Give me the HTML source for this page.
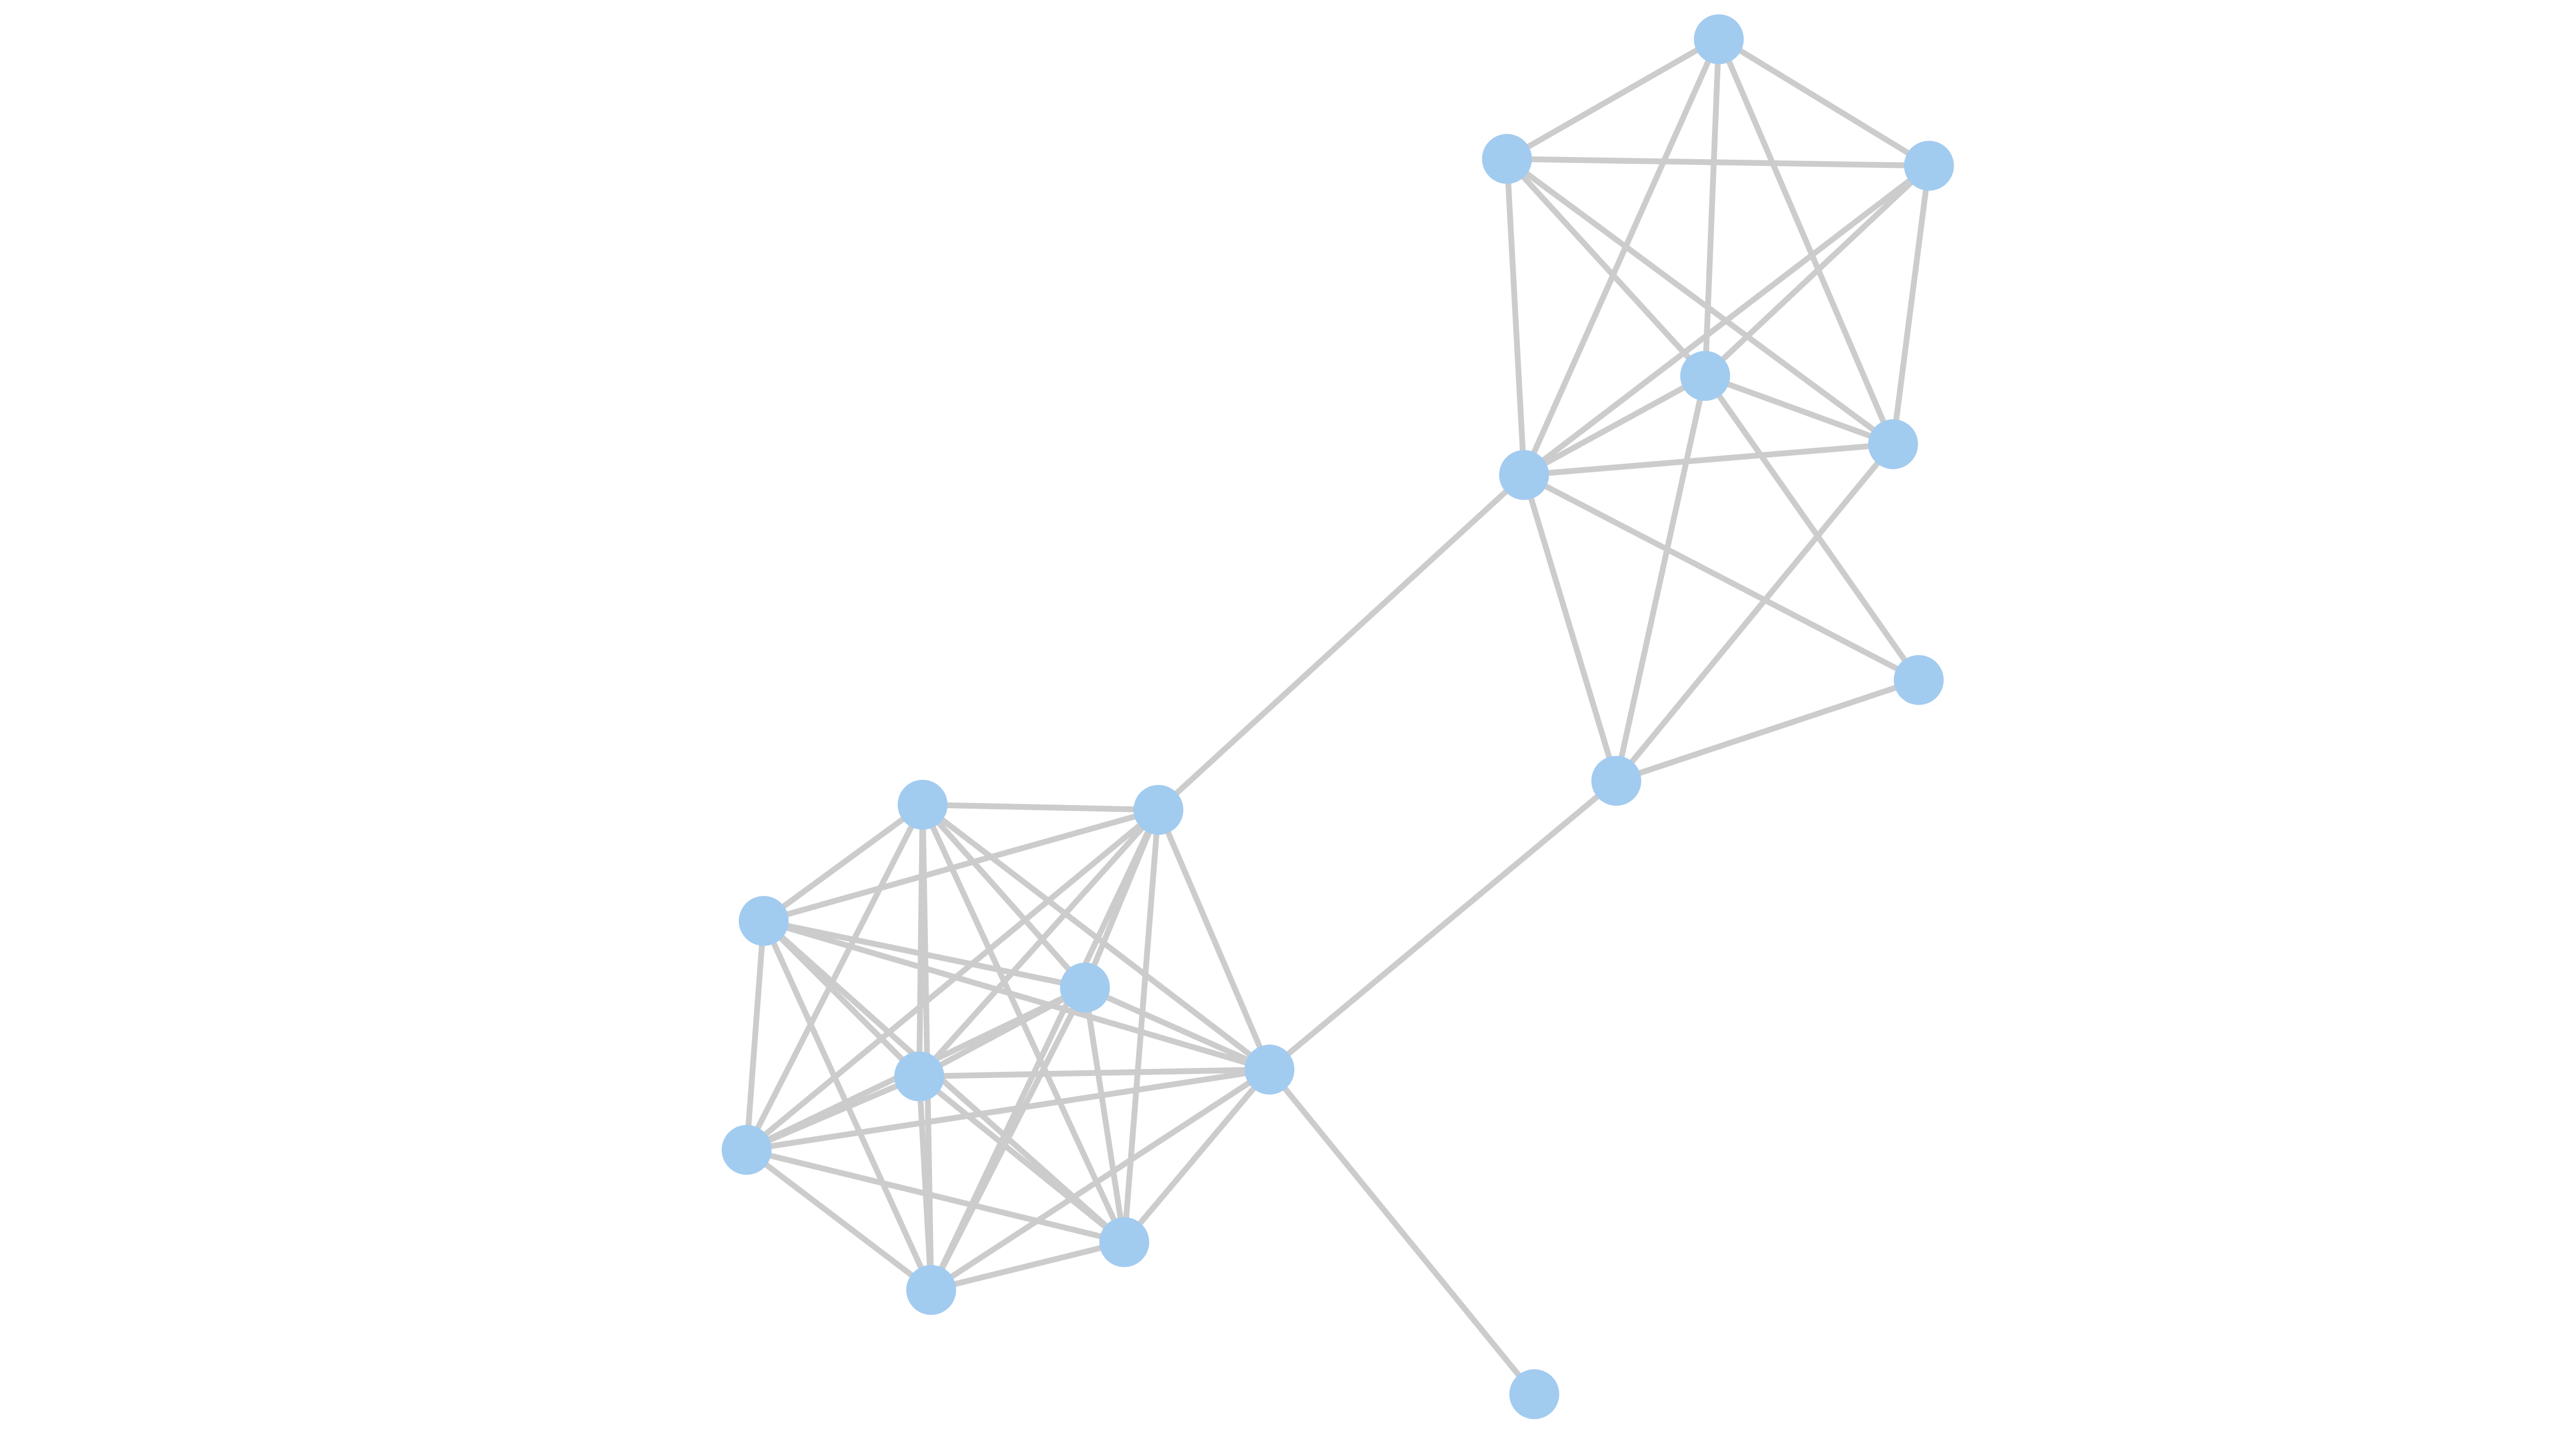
<!DOCTYPE html>
<html><head><meta charset="utf-8"><style>html,body{margin:0;padding:0;background:#fff}svg{display:block}</style></head>
<body>
<svg width="5200" height="2784" viewBox="0 0 1568 839.3" preserveAspectRatio="none" xmlns="http://www.w3.org/2000/svg">
<g stroke="#cccccc" stroke-width="3.4" stroke-linecap="round">
<line x1="1006" y1="22" x2="882" y2="93"/>
<line x1="1006" y1="22" x2="1129" y2="97"/>
<line x1="1006" y1="22" x2="998" y2="220"/>
<line x1="1006" y1="22" x2="1108" y2="260"/>
<line x1="1006" y1="22" x2="892" y2="278"/>
<line x1="882" y1="93" x2="1129" y2="97"/>
<line x1="882" y1="93" x2="998" y2="220"/>
<line x1="882" y1="93" x2="1108" y2="260"/>
<line x1="882" y1="93" x2="892" y2="278"/>
<line x1="1129" y1="97" x2="998" y2="220"/>
<line x1="1129" y1="97" x2="1108" y2="260"/>
<line x1="1129" y1="97" x2="892" y2="278"/>
<line x1="998" y1="220" x2="1108" y2="260"/>
<line x1="998" y1="220" x2="892" y2="278"/>
<line x1="998" y1="220" x2="1123" y2="398"/>
<line x1="998" y1="220" x2="946" y2="457"/>
<line x1="1108" y1="260" x2="892" y2="278"/>
<line x1="1108" y1="260" x2="946" y2="457"/>
<line x1="892" y1="278" x2="1123" y2="398"/>
<line x1="892" y1="278" x2="946" y2="457"/>
<line x1="1123" y1="398" x2="946" y2="457"/>
<line x1="892" y1="278" x2="678" y2="474"/>
<line x1="946" y1="457" x2="743" y2="626"/>
<line x1="743" y1="626" x2="898" y2="816"/>
<line x1="540" y1="471" x2="678" y2="474"/>
<line x1="540" y1="471" x2="447" y2="539"/>
<line x1="540" y1="471" x2="635" y2="578"/>
<line x1="540" y1="471" x2="743" y2="626"/>
<line x1="540" y1="471" x2="538" y2="630"/>
<line x1="540" y1="471" x2="437" y2="673"/>
<line x1="540" y1="471" x2="658" y2="727"/>
<line x1="540" y1="471" x2="545" y2="755"/>
<line x1="678" y1="474" x2="447" y2="539"/>
<line x1="678" y1="474" x2="635" y2="578"/>
<line x1="678" y1="474" x2="743" y2="626"/>
<line x1="678" y1="474" x2="538" y2="630"/>
<line x1="678" y1="474" x2="437" y2="673"/>
<line x1="678" y1="474" x2="658" y2="727"/>
<line x1="678" y1="474" x2="545" y2="755"/>
<line x1="447" y1="539" x2="635" y2="578"/>
<line x1="447" y1="539" x2="743" y2="626"/>
<line x1="447" y1="539" x2="538" y2="630"/>
<line x1="447" y1="539" x2="437" y2="673"/>
<line x1="447" y1="539" x2="658" y2="727"/>
<line x1="447" y1="539" x2="545" y2="755"/>
<line x1="635" y1="578" x2="743" y2="626"/>
<line x1="635" y1="578" x2="538" y2="630"/>
<line x1="635" y1="578" x2="437" y2="673"/>
<line x1="635" y1="578" x2="658" y2="727"/>
<line x1="635" y1="578" x2="545" y2="755"/>
<line x1="743" y1="626" x2="538" y2="630"/>
<line x1="743" y1="626" x2="437" y2="673"/>
<line x1="743" y1="626" x2="658" y2="727"/>
<line x1="743" y1="626" x2="545" y2="755"/>
<line x1="538" y1="630" x2="437" y2="673"/>
<line x1="538" y1="630" x2="658" y2="727"/>
<line x1="538" y1="630" x2="545" y2="755"/>
<line x1="437" y1="673" x2="658" y2="727"/>
<line x1="437" y1="673" x2="545" y2="755"/>
<line x1="658" y1="727" x2="545" y2="755"/>
</g>
<g fill="#a2cbf0">
<circle cx="1006" cy="23" r="14.6"/>
<circle cx="882" cy="93" r="14.6"/>
<circle cx="1129" cy="97" r="14.6"/>
<circle cx="998" cy="220" r="14.6"/>
<circle cx="1108" cy="260" r="14.6"/>
<circle cx="892" cy="278" r="14.6"/>
<circle cx="1123" cy="398" r="14.6"/>
<circle cx="946" cy="457" r="14.6"/>
<circle cx="540" cy="471" r="14.6"/>
<circle cx="678" cy="474" r="14.6"/>
<circle cx="447" cy="539" r="14.6"/>
<circle cx="635" cy="578" r="14.6"/>
<circle cx="743" cy="626" r="14.6"/>
<circle cx="538" cy="630" r="14.6"/>
<circle cx="437" cy="673" r="14.6"/>
<circle cx="658" cy="727" r="14.6"/>
<circle cx="545" cy="755" r="14.6"/>
<circle cx="898" cy="816" r="14.6"/>
</g>
</svg>
</body></html>
